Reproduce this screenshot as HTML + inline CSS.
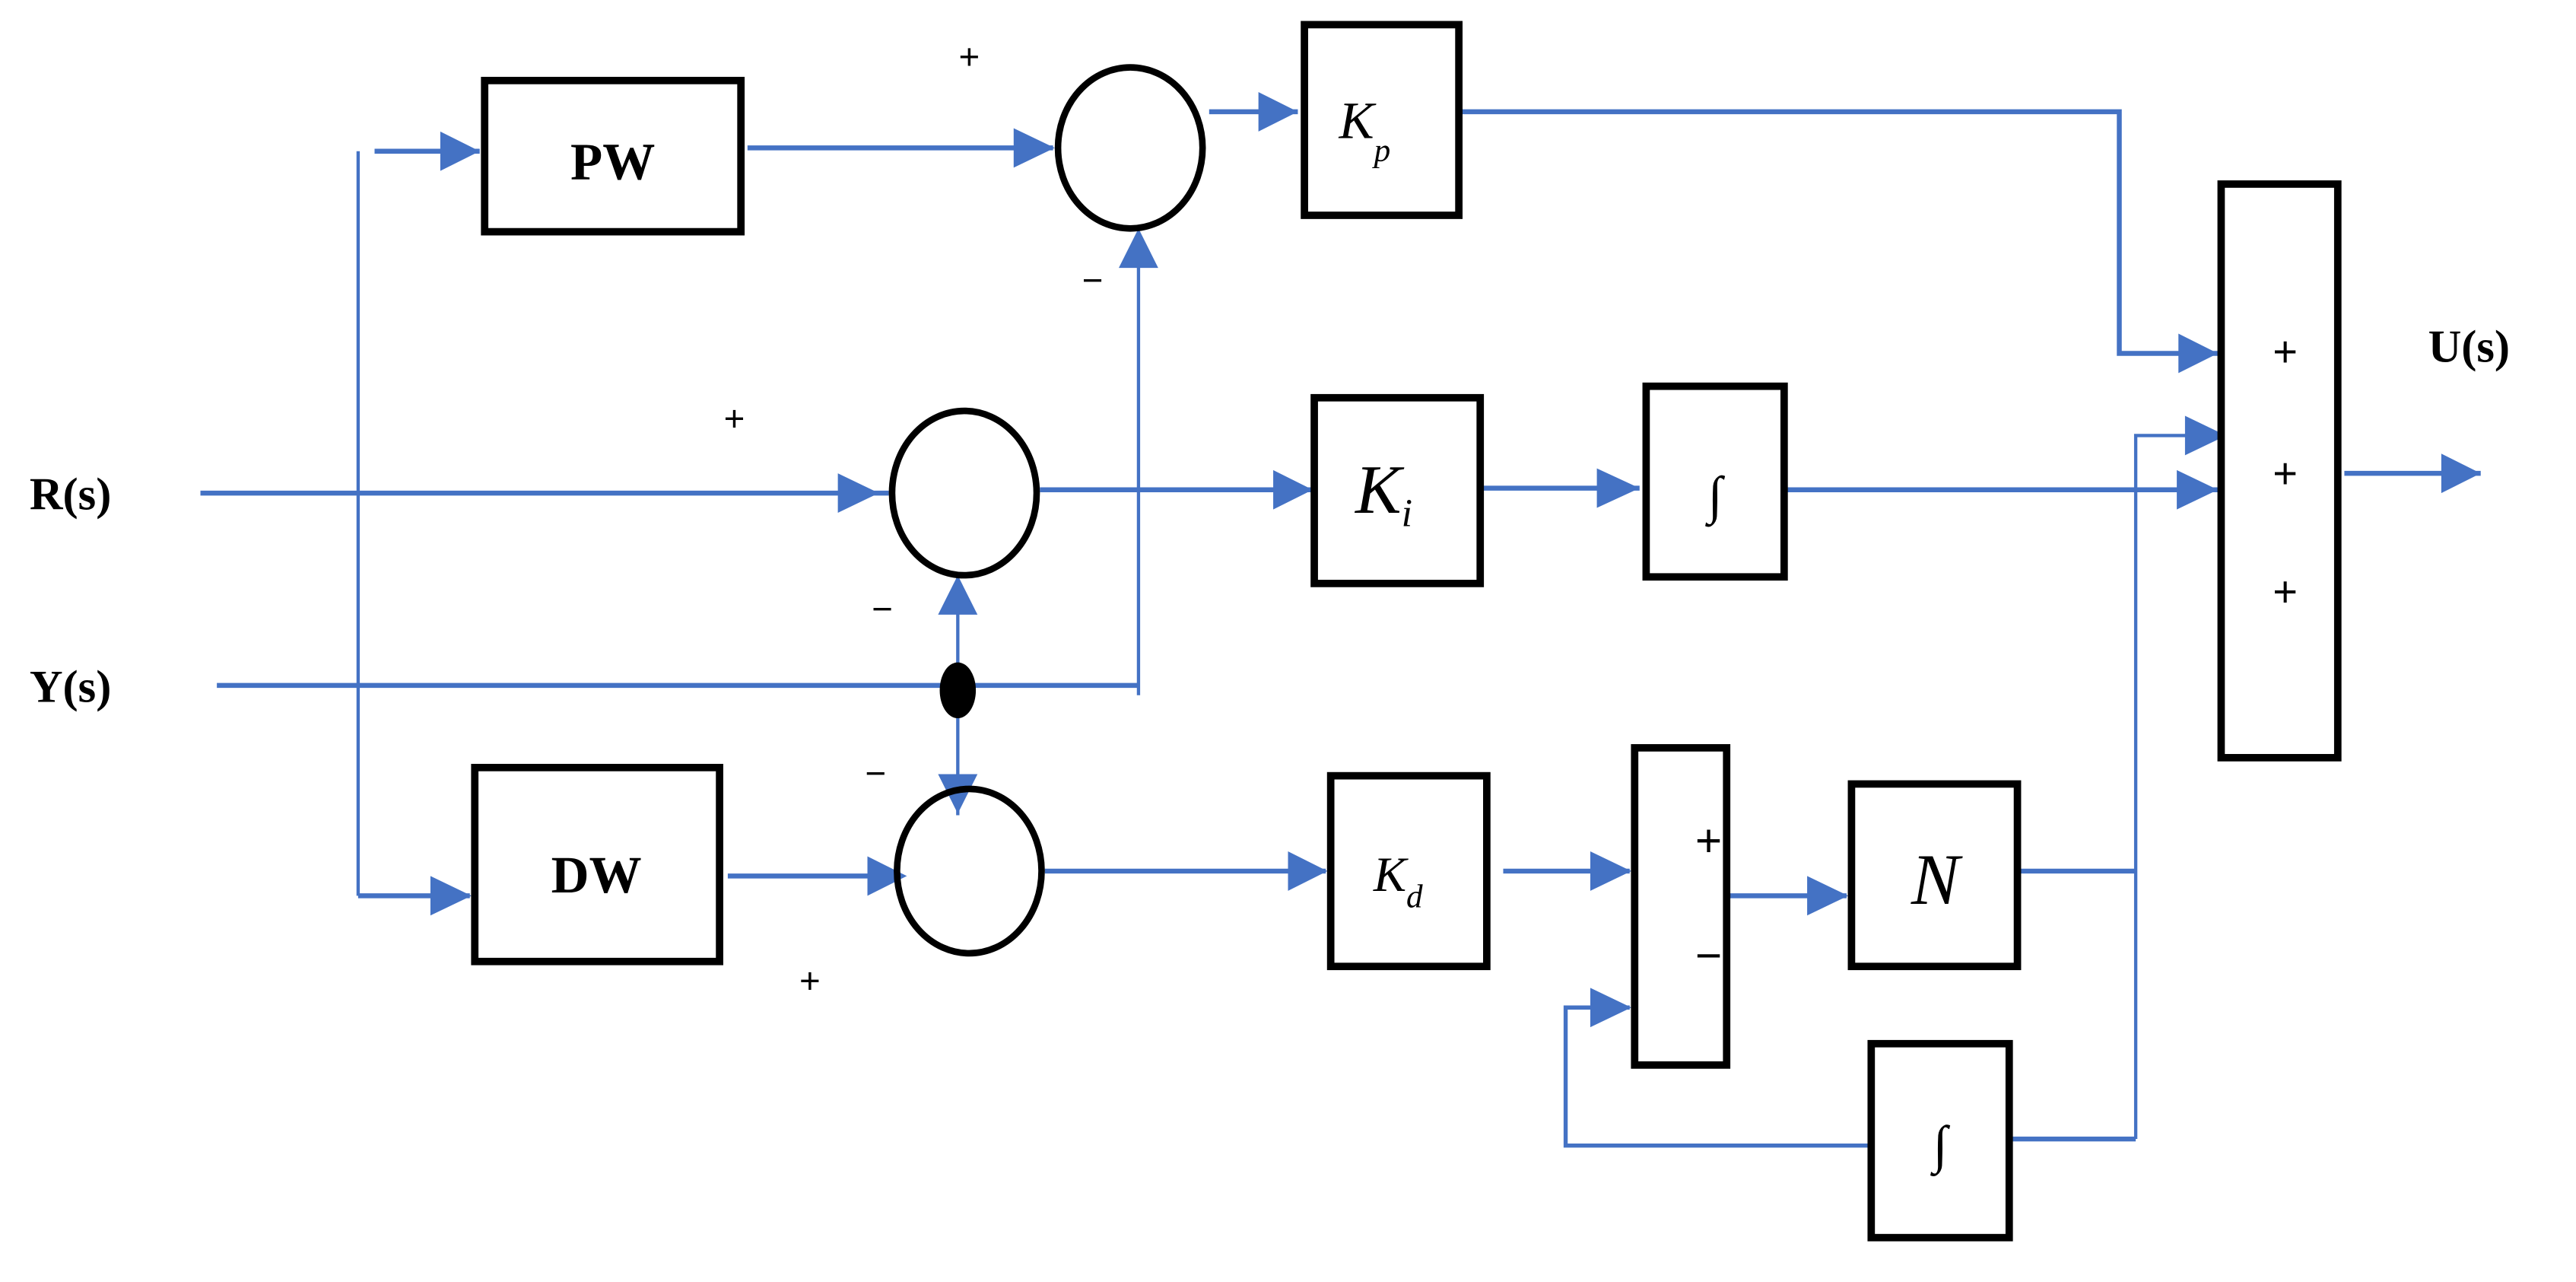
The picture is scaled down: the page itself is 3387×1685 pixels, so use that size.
<!DOCTYPE html>
<html><head><meta charset="utf-8"><style>html,body{margin:0;padding:0;background:#fff}svg{display:block}</style></head>
<body>
<svg width="3387" height="1685" viewBox="0 0 1568 780" preserveAspectRatio="none" xmlns="http://www.w3.org/2000/svg">
<g fill="none" stroke="#4472C4" stroke-width="3">
<path d="M218,92 V545" stroke-width="2"/>
<path d="M228,92 H292" />
<path d="M218,545 H286"/>
<path d="M455,90 H641"/>
<path d="M736,68 H790"/>
<path d="M890,68 H1290 V215 H1350"/>
<path d="M122,300 H541"/>
<path d="M633,298 H798"/>
<path d="M903,297 H998"/>
<path d="M1088,298 H1350"/>
<path d="M1427,288 H1510"/>
<path d="M132,417 H693"/>
<path d="M693,423 V160" stroke-width="2"/>
<path d="M583,420 V351" stroke-width="2"/>
<path d="M583,420 V496" stroke-width="2"/>
<path d="M443,533 H546"/>
<path d="M636,530 H807"/>
<path d="M915,530 H992"/>
<path d="M1053,545 H1124"/>
<path d="M1230,530 H1300"/>
<path d="M1300,693 V265 H1355" stroke-width="2"/>
<path d="M1225,693 H1300"/>
<path d="M1137,697 H953 V613 H992" stroke-width="2.5"/>
</g>
<g fill="#4472C4">
<path d="M268,80 L292,92 L268,104Z"/>
<path d="M617,78 L642,90 L617,102Z"/>
<path d="M766,56 L790,68 L766,80Z"/>
<path d="M1326,203 L1350,215 L1326,227Z"/>
<path d="M510,288 L535,300 L510,312Z"/>
<path d="M775,286 L799,298 L775,310Z"/>
<path d="M972,285 L998,297 L972,309Z"/>
<path d="M1325,286 L1350,298 L1325,310Z"/>
<path d="M1486,276 L1510,288 L1486,300Z"/>
<path d="M681,163 L693,139 L705,163Z"/>
<path d="M571,374 L583,350 L595,374Z"/>
<path d="M571,471 L583,495 L595,471Z"/>
<path d="M262,533 L287,545 L262,557Z"/>
<path d="M528,521 L552,533 L528,545Z"/>
<path d="M784,518 L808,530 L784,542Z"/>
<path d="M968,518 L993,530 L968,542Z"/>
<path d="M1100,533 L1125,545 L1100,557Z"/>
<path d="M1330,253 L1355,265 L1330,277Z"/>
<path d="M968,601 L993,613 L968,625Z"/>
</g>
<g fill="#fff" stroke="#000" stroke-width="4.5">
<rect x="295" y="49" width="156" height="92"/>
<rect x="794" y="15" width="94" height="116"/>
<rect x="1352" y="112" width="71" height="349"/>
<rect x="800" y="242" width="101" height="113"/>
<rect x="1002" y="235" width="84" height="116"/>
<rect x="289" y="467" width="149" height="118"/>
<rect x="810" y="472" width="95" height="116"/>
<rect x="995" y="455" width="56" height="193"/>
<rect x="1127" y="477" width="101" height="111"/>
<rect x="1139" y="635" width="84" height="118"/>
</g>
<g fill="none" stroke="#000" stroke-width="4">
<ellipse cx="688" cy="90" rx="44" ry="49"/>
<ellipse cx="587" cy="300" rx="44" ry="50"/>
<ellipse cx="590" cy="530" rx="44" ry="50"/>
</g>
<ellipse cx="583" cy="420" rx="11" ry="17" fill="#000"/>
<g font-family="Liberation Serif, serif" fill="#000">
<text x="18" y="310" font-size="28" font-weight="bold">R(s)</text>
<text x="18" y="427" font-size="28" font-weight="bold">Y(s)</text>
<text x="1478" y="220" font-size="28" font-weight="bold">U(s)</text>
<text x="373" y="109" font-size="32" font-weight="bold" text-anchor="middle">PW</text>
<text x="363" y="543" font-size="32" font-weight="bold" text-anchor="middle">DW</text>
<text x="815" y="84" font-size="32" font-style="italic">K<tspan font-size="20" dy="14">p</tspan></text>
<text x="825" y="312" font-size="42" font-style="italic">K<tspan font-size="24" dy="8">i</tspan></text>
<text x="836" y="542" font-size="30" font-style="italic">K<tspan font-size="20" dy="10">d</tspan></text>
<text x="1178" y="550" font-size="44" font-style="italic" text-anchor="middle">N</text>
<text x="1044" y="312" font-size="32" text-anchor="middle">∫</text>
<text x="1181" y="707" font-size="32" text-anchor="middle">∫</text>
<g font-family="Liberation Sans, sans-serif" font-size="22" text-anchor="middle">
<text x="590" y="42">+</text>
<text x="447" y="262">+</text>
<text x="493" y="604">+</text>
<text x="665" y="178">−</text>
<text x="537" y="378">−</text>
<text x="533" y="478">−</text>
<text x="1391" y="223" font-size="26">+</text>
<text x="1391" y="297" font-size="26">+</text>
<text x="1391" y="369" font-size="26">+</text>
<text x="1040" y="521" font-size="28">+</text>
<text x="1040" y="591" font-size="28">−</text>
</g>
</g>
</svg>
</body></html>
